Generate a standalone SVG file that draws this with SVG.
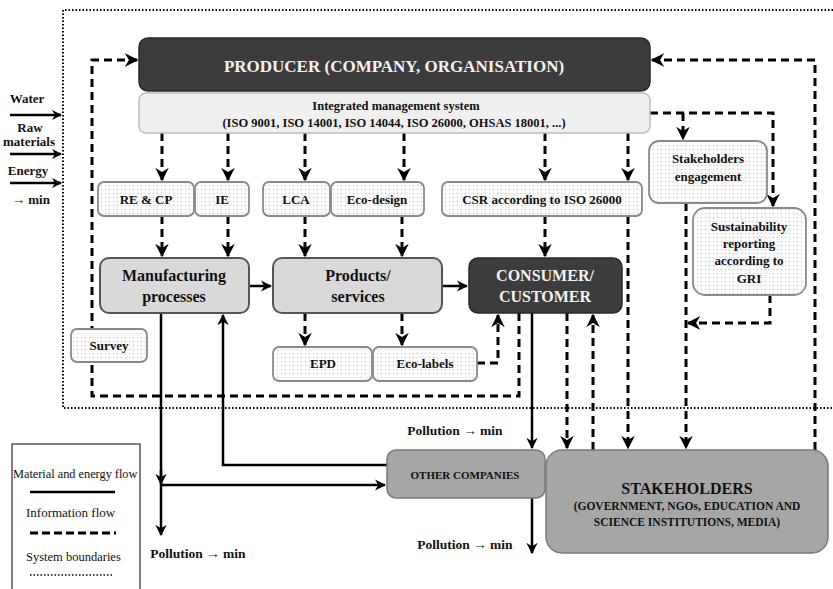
<svg xmlns="http://www.w3.org/2000/svg" width="833" height="589" viewBox="0 0 833 589">
<defs>
<pattern id="dots" width="4" height="4" patternUnits="userSpaceOnUse">
<rect width="4" height="4" fill="#fbfbfb"/>
<rect x="1" y="1" width="1" height="1" fill="#c4c4c4"/>
</pattern>
<marker id="ah" viewBox="0 0 10 10" refX="9" refY="5" markerWidth="4.5" markerHeight="4.5" orient="auto" markerUnits="strokeWidth">
<path d="M0,0 L10,5 L0,10 L3,5 z" fill="#000"/>
</marker>
<marker id="ahs" viewBox="0 0 10 10" refX="9" refY="5" markerWidth="5" markerHeight="4" orient="auto" markerUnits="strokeWidth">
<path d="M0,0 L10,5 L0,10 L3,5 z" fill="#000"/>
</marker>
</defs>
<style>
text{font-family:"Liberation Serif","Times New Roman",serif;font-weight:bold;fill:#111;text-anchor:middle}
.dark{fill:#3c3c3c;stroke:#2a2a2a;stroke-width:1.5}
.light{fill:#d9d9d9;stroke:#555;stroke-width:2}
.ims{fill:#efefef;stroke:#bdbdbd;stroke-width:1.5}
.dot{fill:url(#dots);stroke:#8a8a8a;stroke-width:1.8}
.grey{fill:#a6a6a6;stroke:#7a7a7a;stroke-width:1.5}
.w{fill:#f2f2f2}
.dash{fill:none;stroke:#000;stroke-width:3;stroke-dasharray:8 5}
.solid{fill:none;stroke:#000;stroke-width:2.5}
.bound{fill:none;stroke:#000;stroke-width:2;stroke-dasharray:1.5 2}
.leg{font-weight:normal;text-anchor:start}
</style>

<path class="bound" d="M833,10 H63 V408 H833"/>

<g id="inputs">
<text x="27" y="103" font-size="13">Water</text>
<text x="30" y="132" font-size="13">Raw</text>
<text x="29" y="146" font-size="13">materials</text>
<text x="28" y="175" font-size="13">Energy</text>
<text x="31" y="204" font-size="13">→ min</text>
<path class="solid" d="M10,115 H61" stroke-width="3" marker-end="url(#ahs)"/>
<path class="solid" d="M10,154 H61" stroke-width="3" marker-end="url(#ahs)"/>
<path class="solid" d="M10,183 H61" stroke-width="3" marker-end="url(#ahs)"/>
</g>

<g id="connectors">
<path class="dash" d="M519,313 V396 H92 V60 H137" marker-end="url(#ah)"/>
<path class="dash" d="M815,450 V60 H652" marker-end="url(#ah)"/>
<path class="dash" d="M162,133 V180" marker-end="url(#ah)"/>
<path class="dash" d="M228,133 V180" marker-end="url(#ah)"/>
<path class="dash" d="M305,133 V180" marker-end="url(#ah)"/>
<path class="dash" d="M404,133 V180" marker-end="url(#ah)"/>
<path class="dash" d="M545,133 V180" marker-end="url(#ah)"/>
<path class="dash" d="M628,133 V180" marker-end="url(#ah)"/>
<path class="dash" d="M650,113 H773 V206" marker-end="url(#ah)"/>
<path class="dash" d="M683,113 V139" marker-end="url(#ah)"/>
<path class="dash" d="M162,216 V256" marker-end="url(#ah)"/>
<path class="dash" d="M228,216 V256" marker-end="url(#ah)"/>
<path class="dash" d="M305,216 V256" marker-end="url(#ah)"/>
<path class="dash" d="M402,216 V256" marker-end="url(#ah)"/>
<path class="dash" d="M545,216 V256" marker-end="url(#ah)"/>
<path class="dash" d="M628,216 V448" marker-end="url(#ah)"/>
<path class="dash" d="M305,313 V345" marker-end="url(#ah)"/>
<path class="dash" d="M402,313 V345" marker-end="url(#ah)"/>
<path class="dash" d="M477,363 H498 V315" marker-end="url(#ah)"/>
<path class="dash" d="M567,313 V448" marker-end="url(#ah)"/>
<path class="dash" d="M593,450 V315" marker-end="url(#ah)"/>
<path class="dash" d="M686,203 V448" marker-end="url(#ah)"/>
<path class="dash" d="M770,295 V323 H688" marker-end="url(#ah)"/>
<path class="solid" d="M249,286 H271" marker-end="url(#ah)"/>
<path class="solid" d="M442,286 H467" marker-end="url(#ah)"/>
<path class="solid" d="M161,313 V535" marker-end="url(#ah)"/>
<path class="solid" d="M161,470 V484" marker-end="url(#ah)"/>
<path class="solid" d="M161,485 H385" marker-end="url(#ah)"/>
<path class="solid" d="M387,465 H223 V315" marker-end="url(#ah)"/>
<path class="solid" d="M532,313 V448" marker-end="url(#ah)"/>
<path class="solid" d="M532,498 V553" marker-end="url(#ah)"/>
</g>

<g id="producer">
<rect class="dark" x="139" y="38" width="511" height="53" rx="9"/>
<text class="w" x="394" y="72" font-size="17">PRODUCER (COMPANY, ORGANISATION)</text>
</g>
<g id="ims">
<rect class="ims" x="139" y="93" width="511" height="40" rx="7"/>
<text x="396" y="110" font-size="12.5">Integrated management system</text>
<text x="394" y="127" font-size="12.5">(ISO 9001, ISO 14001, ISO 14044, ISO 26000, OHSAS 18001, ...)</text>
</g>
<g id="recp"><rect class="dot" x="98" y="182" width="96" height="34" rx="6"/><text x="146" y="204" font-size="13">RE &amp; CP</text></g>
<g id="ie"><rect class="dot" x="195" y="182" width="54" height="34" rx="6"/><text x="222" y="204" font-size="13">IE</text></g>
<g id="lca"><rect class="dot" x="263" y="182" width="67" height="34" rx="6"/><text x="296" y="204" font-size="13">LCA</text></g>
<g id="ecodesign"><rect class="dot" x="331" y="182" width="93" height="34" rx="6"/><text x="377" y="204" font-size="13">Eco-design</text></g>
<g id="csr"><rect class="dot" x="442" y="182" width="200" height="34" rx="6"/><text x="542" y="204" font-size="13">CSR according to ISO 26000</text></g>
<g id="stakeng"><rect class="dot" x="649" y="141" width="118" height="62" rx="10"/><text x="708" y="163" font-size="13">Stakeholders</text><text x="708" y="181" font-size="13">engagement</text></g>
<g id="gri"><rect class="dot" x="693" y="208" width="113" height="87" rx="12"/><text x="749" y="231" font-size="13">Sustainability</text><text x="749" y="248" font-size="13">reporting</text><text x="749" y="265" font-size="13">according to</text><text x="749" y="283" font-size="13">GRI</text></g>
<g id="manufacturing"><rect class="light" x="100" y="258" width="149" height="55" rx="9"/><text x="174" y="281" font-size="16">Manufacturing</text><text x="174" y="302" font-size="16">processes</text></g>
<g id="products"><rect class="light" x="273" y="258" width="169" height="55" rx="9"/><text x="358" y="281" font-size="16">Products/</text><text x="358" y="302" font-size="16">services</text></g>
<g id="consumer"><rect class="dark" x="469" y="258" width="153" height="55" rx="9"/><text class="w" x="545" y="281" font-size="16">CONSUMER/</text><text class="w" x="545" y="302" font-size="16">CUSTOMER</text></g>
<g id="survey"><rect class="dot" x="71" y="329" width="76" height="33" rx="6"/><text x="109" y="350" font-size="13">Survey</text></g>
<g id="epd"><rect class="dot" x="273" y="347" width="99" height="34" rx="6"/><text x="323" y="368" font-size="13">EPD</text></g>
<g id="ecolabels"><rect class="dot" x="373" y="347" width="104" height="34" rx="6"/><text x="425" y="368" font-size="13">Eco-labels</text></g>
<g id="others"><rect class="grey" x="387" y="450" width="158" height="48" rx="9"/><text x="465" y="479" font-size="11">OTHER COMPANIES</text></g>
<g id="stakeholders"><rect class="grey" x="546" y="450" width="282" height="103" rx="16"/><text x="687" y="494" font-size="16">STAKEHOLDERS</text><text x="687" y="510" font-size="11.5">(GOVERNMENT, NGOs, EDUCATION AND</text><text x="687" y="526" font-size="11.5">SCIENCE INSTITUTIONS, MEDIA)</text></g>

<g id="pollution">
<text x="455" y="435" font-size="13.5">Pollution → min</text>
<text x="465" y="549" font-size="13.5">Pollution → min</text>
<text x="198" y="558" font-size="13.5">Pollution → min</text>
</g>

<g id="legend">
<rect x="12" y="444" width="128" height="150" fill="#fff" stroke="#000" stroke-width="1"/>
<text class="leg" x="13" y="478" font-size="12.3">Material and energy flow</text>
<path d="M30,492 H115" stroke="#000" stroke-width="2.5"/>
<text class="leg" x="26" y="517" font-size="13">Information flow</text>
<path d="M30,533 H116" stroke="#000" stroke-width="3" stroke-dasharray="8 4"/>
<text class="leg" x="26" y="561" font-size="12.5">System boundaries</text>
<path d="M30,575 H112" stroke="#000" stroke-width="1.5" stroke-dasharray="1.5 2"/>
</g>
</svg>
